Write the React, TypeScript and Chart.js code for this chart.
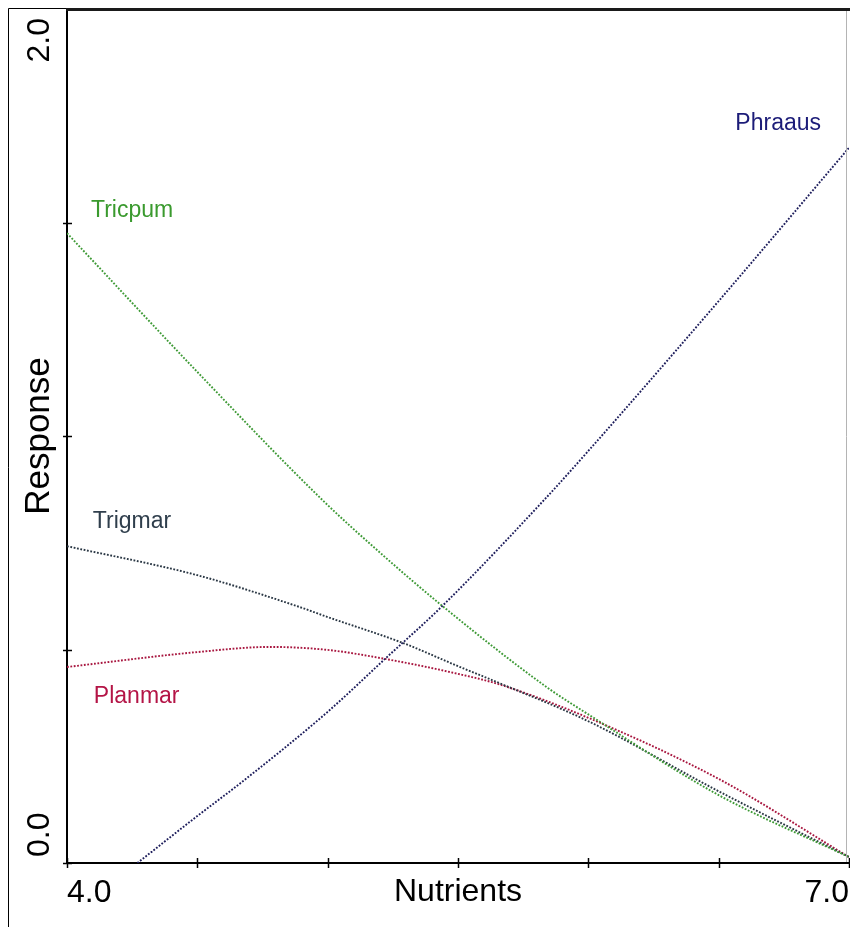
import React, { useEffect, useRef } from "react";
import { Chart, registerables } from "chart.js";

Chart.register(...registerables);

// ---- data ----
const X_MIN = 4.0;
const X_MAX = 7.0;
const Y_MIN = 0.0;
const Y_MAX = 2.0;
const X_STEP = 0.5;
const Y_STEP = 0.5;
const xTickLabels = ["4.0", "7.0"];
const yTickLabels = ["0.0", "2.0"];
const xTitle = "Nutrients";
const yTitle = "Response";

const seriesNames = ["Phraaus", "Tricpum", "Trigmar", "Planmar"];

const phraausX = [4.27, 4.5, 4.68, 5.0, 5.22, 5.44, 5.83, 6.0, 6.5, 7.0];
const phraausY = [0.0, 0.11, 0.194, 0.354, 0.478, 0.602, 0.85, 0.965, 1.316, 1.675];

const tricpumX = [4.0, 4.5, 4.98, 5.18, 5.44, 5.84, 6.0, 6.5, 7.0];
const tricpumY = [1.475, 1.15, 0.85, 0.738, 0.602, 0.412, 0.348, 0.159, 0.014];

const trigmarX = [4.0, 4.5, 4.89, 5.0, 5.29, 5.5, 5.66, 6.0, 6.5, 7.0];
const trigmarY = [0.742, 0.674, 0.6, 0.576, 0.515, 0.461, 0.421, 0.332, 0.168, 0.014];

const planmarX = [4.0, 4.5, 4.78, 5.0, 5.22, 5.5, 5.66, 6.0, 6.5, 7.0];
const planmarY = [0.459, 0.494, 0.506, 0.499, 0.478, 0.443, 0.418, 0.34, 0.197, 0.014];

// label anchors in data units (left / baseline of each species name)
const labelAnchorX = [6.564, 4.092, 4.099, 4.103];
const labelAnchorY = [1.717, 1.513, 0.785, 0.375];

// ---- styles ----
const FONT = '"Liberation Sans", Arial, Helvetica, sans-serif';
const lineColors = ["#1e1e5c", "#3e9a36", "#2a3744", "#a8163f"];
const labelColors = ["#1c1c78", "#3a9a2e", "#2f3e4c", "#b41446"];

const seriesX = [phraausX, tricpumX, trigmarX, planmarX];
const seriesY = [phraausY, tricpumY, trigmarY, planmarY];

export default function App() {
  const canvasRef = useRef<HTMLCanvasElement | null>(null);

  useEffect(() => {
    const canvas = canvasRef.current;
    if (!canvas) return;

    const framePlugin = {
      id: "frameAndTicks",
      afterDraw(chart: any) {
        const { ctx, chartArea, scales } = chart;
        const xs = scales.x;
        const ys = scales.y;
        ctx.save();
        // outer frame
        ctx.strokeStyle = "#000";
        ctx.lineWidth = 1;
        ctx.beginPath();
        ctx.moveTo(8.5, 927);
        ctx.lineTo(8.5, 8.5);
        ctx.lineTo(850, 8.5);
        ctx.stroke();
        // plot top border
        ctx.fillStyle = "#1a1a1a";
        ctx.fillRect(chartArea.left - 1, 8, 850 - chartArea.left + 1, 3);
        // right border
        ctx.strokeStyle = "#b4b4b4";
        ctx.beginPath();
        ctx.moveTo(846.5, 11);
        ctx.lineTo(846.5, chartArea.bottom - 1);
        ctx.stroke();
        // tick marks crossing the axes
        ctx.strokeStyle = "#000";
        ctx.lineWidth = 1.5;
        const axisY = chartArea.bottom;
        xs.ticks.forEach((t: any) => {
          const px = Math.round(xs.getPixelForValue(t.value)) + 0.5;
          ctx.beginPath();
          ctx.moveTo(px, axisY - 5);
          ctx.lineTo(px, axisY + 5);
          ctx.stroke();
        });
        const axisX = chartArea.left;
        ys.ticks.forEach((t: any) => {
          if (t.value === Y_MAX) return;
          const py = Math.round(ys.getPixelForValue(t.value)) + 0.5;
          ctx.beginPath();
          ctx.moveTo(axisX - 4, py);
          ctx.lineTo(axisX + 5, py);
          ctx.stroke();
        });
        // rotated y tick labels (first starts at bottom, last ends at top)
        ctx.fillStyle = "#000";
        ctx.font = `32px ${FONT}`;
        ctx.textBaseline = "middle";
        const labX = axisX - 27;
        yTickLabels.forEach((s, i) => {
          const v = parseFloat(s);
          const py = ys.getPixelForValue(v);
          ctx.save();
          if (i === 0) {
            ctx.translate(labX, py - 6);
            ctx.rotate(-Math.PI / 2);
            ctx.textAlign = "left";
          } else {
            ctx.translate(labX, py + 9);
            ctx.rotate(-Math.PI / 2);
            ctx.textAlign = "right";
          }
          ctx.fillText(s, 0, 0);
          ctx.restore();
        });
        ctx.restore();
      },
      afterDatasetsDraw(chart: any) {
        const { ctx, scales } = chart;
        ctx.save();
        ctx.font = `23px ${FONT}`;
        ctx.textAlign = "left";
        ctx.textBaseline = "alphabetic";
        seriesNames.forEach((name, i) => {
          ctx.fillStyle = labelColors[i];
          ctx.fillText(
            name,
            scales.x.getPixelForValue(labelAnchorX[i]),
            scales.y.getPixelForValue(labelAnchorY[i])
          );
        });
        ctx.restore();
      },
    };

    const chart = new Chart(canvas, {
      type: "line",
      data: {
        datasets: seriesNames.map((name, i) => ({
          label: name,
          data: seriesX[i].map((x, j) => ({ x, y: seriesY[i][j] })),
          borderColor: lineColors[i],
          backgroundColor: lineColors[i],
          borderWidth: 1.9,
          borderDash: [1.8, 1.6],
          pointRadius: 0,
          fill: false,
          cubicInterpolationMode: "monotone" as const,
        })),
      },
      options: {
        responsive: false,
        animation: false,
        layout: { padding: { top: 9, right: 1, left: 0, bottom: 0 } },
        plugins: {
          legend: { display: false },
          tooltip: { enabled: false },
        },
        scales: {
          x: {
            type: "linear",
            min: X_MIN,
            max: X_MAX,
            afterBuildTicks(scale: any) {
              const t = [];
              for (let v = X_MIN; v <= X_MAX + 1e-9; v += X_STEP) t.push({ value: Math.round(v * 10) / 10 });
              scale.ticks = t;
            },
            ticks: {
              autoSkip: false,
              maxRotation: 0,
              minRotation: 0,
              align: "inner",
              padding: 11,
              color: "#000",
              font: { family: FONT, size: 32 },
              callback: (v: any) => {
                const s = Number(v).toFixed(1);
                return xTickLabels.includes(s) ? s : "";
              },
            },
            grid: { drawOnChartArea: false, drawTicks: false },
            border: { display: true, color: "#000", width: 2 },
            title: {
              display: true,
              text: xTitle,
              color: "#000",
              font: { family: FONT, size: 32 },
              padding: { top: 0, bottom: 16 },
            },
            afterFit(scale: any) {
              scale.height = 64;
              scale.paddingLeft = 0;
              scale.paddingRight = 0;
            },
          },
          y: {
            type: "linear",
            min: Y_MIN,
            max: Y_MAX,
            afterBuildTicks(scale: any) {
              const t = [];
              for (let v = Y_MIN; v <= Y_MAX + 1e-9; v += Y_STEP) t.push({ value: Math.round(v * 10) / 10 });
              scale.ticks = t;
            },
            ticks: { display: false },
            grid: { drawOnChartArea: false, drawTicks: false },
            border: { display: true, color: "#000", width: 2 },
            title: {
              display: true,
              text: yTitle,
              color: "#000",
              font: { family: FONT, size: 35 },
              padding: { top: 18, bottom: 0 },
            },
            afterFit(scale: any) {
              scale.width = 67;
              scale.paddingTop = 0;
              scale.paddingBottom = 0;
            },
          },
        },
      },
      plugins: [framePlugin],
    });

    return () => chart.destroy();
  }, []);

  return (
    <div style={{ position: "absolute", left: 0, top: 0, width: 850, height: 927, background: "#fff" }}>
      <canvas ref={canvasRef} width={850} height={927} style={{ width: 850, height: 927, display: "block" }} />
    </div>
  );
}
